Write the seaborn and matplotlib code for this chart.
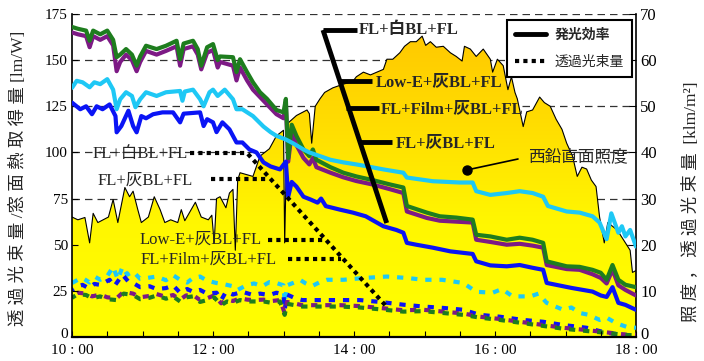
import seaborn as sns
import matplotlib.pyplot as plt
import matplotlib.colors as mcolors
import matplotlib.transforms as mtrans
from matplotlib.lines import Line2D
import numpy as np

sns.set_theme(style="ticks")
plt.rcParams['font.family'] = ['Liberation Serif', 'Noto Sans CJK JP']
plt.rcParams['axes.unicode_minus'] = False

# ---------------- data (time = minutes after 10:00) ----------------
# luminous efficacy [lm/W] (left axis)
t_gp = [0, 5, 12, 15, 18, 24, 30, 35, 38, 41, 46, 51, 55, 58, 63, 72, 80, 89, 92, 95,
        103, 107, 110, 115, 120, 124, 126, 137, 140, 143, 149, 154, 160, 166, 174, 180, 182, 184, 187, 191,
        197, 202, 205, 208, 220, 231, 242, 256, 271, 282, 285, 302, 313, 327, 341, 344, 356, 370, 381, 392,
        401, 404, 421, 432, 443, 450, 455, 460, 465, 471, 480]
eff_green = [168, 167, 166, 160.5, 166, 164, 166, 161, 151.6, 153, 156, 153, 147, 152, 157.8, 156, 157.8, 160.5, 150.5, 159,
             160.5, 156, 147, 157, 158.7, 150, 152, 151.6, 143.5, 150.5, 143.5, 138, 132.6, 129, 123, 121.7, 129, 97, 115, 109,
             101.6, 98, 101.6, 96, 92, 89, 87, 85, 82.6, 81, 71, 67.4, 65.4, 64.7, 63.6, 55.4, 54.5, 52.7, 53.8, 52.7,
             51, 41, 38.3, 38, 36.4, 34.8, 31, 39, 31, 28.3, 27]
eff_purple = [165, 164, 163, 157, 163, 161, 163, 158, 144, 149, 153, 150, 144, 149, 155, 153, 155, 157.5, 147, 156,
              157.5, 153, 145, 154, 155.5, 146, 149, 147, 139, 146, 139, 134, 130, 126, 120.7, 118.5, 126, 95, 111, 104,
              97, 93.5, 97, 92, 89, 86.5, 84.5, 82.6, 80, 78, 68, 64.5, 63, 62.5, 62, 52.7, 51.5, 50, 50.5, 49.5,
              48.4, 39, 36.8, 36.4, 34, 32, 29, 36.5, 28, 25.5, 22.5]

t_cyan = [0, 4, 9, 15, 19, 24, 30, 35, 38, 41, 46, 51, 54, 58, 63, 72, 80, 92, 94, 96,
          103, 109, 112, 117, 120, 124, 130, 137, 140, 145, 154, 163, 169, 174, 182, 188, 197, 202, 211, 220,
          231, 242, 250, 265, 282, 285, 307, 330, 341, 344, 356, 370, 381, 392, 401, 405, 421, 432, 443, 449,
          455, 459, 465, 468, 471, 475, 480]
eff_cyan = [135, 138.8, 138, 135.3, 138, 137, 139.7, 134, 123.4, 128.8, 132.6, 130.6, 124.5, 128.8, 132.6, 130.6, 132.6, 133.3, 128, 133,
            134, 128.8, 125, 132.6, 134, 130.6, 134, 128.8, 123.4, 123.4, 119.7, 114, 111, 109, 107, 105, 101.6, 100, 98, 96,
            94.6, 93.5, 92.6, 90.8, 89, 86.4, 84.4, 83.7, 83.7, 79, 77, 78, 79, 78, 76, 71, 68, 67.4, 65.4, 62,
            53, 67, 56.5, 60, 54.5, 58, 49]

t_blue = [0, 7, 12, 17, 21, 26, 32, 37, 38, 42, 48, 52, 55, 59, 63, 69, 77, 86, 92, 95,
          109, 112, 115, 120, 123, 128, 134, 140, 145, 151, 157, 163, 169, 177, 182, 184, 187, 191, 197, 203,
          209, 212, 216, 228, 239, 250, 265, 276, 282, 285, 293, 307, 322, 341, 344, 356, 370, 381, 392, 401,
          404, 425, 443, 450, 455, 460, 465, 471, 480]
eff_blue = [127, 123.4, 125, 120.7, 125, 123.4, 126, 119.7, 110.9, 114.3, 122.6, 114.3, 110.9, 119.7, 118.5, 120.7, 121.7, 121.7, 116.3, 121,
            121.7, 114.3, 118, 116.3, 111, 116.3, 112.5, 105.4, 105.4, 101.6, 100, 94.6, 92.4, 90.8, 95, 76, 84, 81.5, 76, 74.5,
            72.8, 75, 70.9, 69, 67.4, 65.4, 60, 58, 56.5, 51, 50, 48.4, 46.4, 45, 41, 38.8, 38.3, 39, 37.5, 36.4,
            29.3, 26.6, 24.6, 22.5, 21.7, 27, 18.5, 17.4, 14.7]

# west vertical illuminance [klm/m2] (right axis)
t_illum = [0, 5, 11, 15, 18, 22, 31, 35, 39, 45, 49, 52, 56, 59, 65, 70, 75, 79, 84, 90,
           93, 96, 105, 110, 116, 119, 121, 123, 126, 131, 134, 137, 139, 141, 143, 154, 160, 164, 168, 174,
           178, 180, 181, 183, 184, 191, 200, 202, 204, 207, 211, 215, 222, 231, 239, 242, 248, 254, 265, 268,
           273, 279, 283, 288, 293, 298, 301, 305, 310, 316, 322, 327, 332, 334, 339, 344, 350, 356, 358, 362,
           367, 371, 374, 377, 379, 384, 387, 392, 398, 402, 407, 412, 417, 421, 426, 430, 434, 438, 442, 446,
           449, 453, 456, 460, 464, 469, 475, 477, 480]
illum = [26, 25.4, 25.9, 20.4, 26.8, 24.8, 26, 29.8, 24.8, 32.4, 30.4, 31.6, 27.6, 24.8, 26, 30.4, 27.6, 24.8, 25.4, 24.8,
         27.6, 25.2, 29.2, 26, 25.4, 26.4, 20.4, 30, 30.4, 28, 31.2, 32, 18.8, 34, 35.6, 34.8, 39.2, 40, 40.8, 43.6,
         44.4, 44.8, 20.4, 44.8, 46.4, 48, 49.2, 48.4, 42, 50, 51.6, 53, 54, 54.8, 55.4, 56.4, 57.4, 56.8, 58, 60.2,
         60.2, 61.6, 63, 64, 64, 65.2, 63.2, 64, 62.8, 63, 61.6, 60.8, 59.8, 63, 62.4, 60.8, 62.4, 60.2, 57.4, 60.2,
         58.8, 53.6, 56.4, 53, 51.6, 45.6, 48.8, 49.2, 52, 50.8, 50, 47.2, 45, 42, 39.2, 34.8, 36.8, 36.4, 34, 32.6,
         26, 20.4, 24.8, 24, 23.2, 21.2, 18.8, 14, 14.4]

# transmitted luminous flux [klm/m2] (right axis)
t_fcyan = [0, 5, 9, 15, 20, 24, 30, 35, 39, 43, 47, 52, 58, 64, 72, 80, 86, 92, 98, 103,
           109, 115, 123, 130, 137, 141, 149, 155, 162, 168, 174, 180, 181, 183, 189, 194, 199, 204, 211, 217,
           231, 249, 268, 285, 299, 315, 333, 344, 358, 366, 375, 390, 397, 404, 418, 425, 432, 440, 449, 455,
           463, 472, 480]
flux_cyan = [11.7, 12.4, 12.8, 11.8, 13.0, 12.4, 13.2, 15.2, 12.5, 15.2, 13.5, 14.2, 12.6, 12.8, 13.1, 12.3, 13.4, 12.4, 11.8, 12.8,
             13.1, 12.2, 11.7, 11.4, 11.0, 10.2, 11.3, 11.6, 11.0, 11.9, 11.7, 11.2, 7.4, 11.2, 11.8, 12.4, 11.6, 11.0, 11.9, 12.4,
             12.4, 12.8, 13.1, 12.8, 12.4, 12.4, 11.7, 9.8, 9.6, 10.4, 8.8, 8.8, 9.4, 7.4, 5.9, 6.4, 5.2, 4.8, 3.7, 4.2,
             3.0, 2.2, 2.0]

t_fblue = [0, 5, 9, 14, 19, 24, 29, 32, 36, 43, 48, 52, 58, 66, 72, 80, 86, 92, 98, 103,
           109, 115, 123, 127, 131, 137, 145, 154, 160, 168, 174, 180, 181, 183, 190, 196, 204, 211, 228, 245,
           262, 282, 299, 316, 333, 347, 364, 384, 401, 418, 438, 455, 472, 480]
flux_blue = [10.2, 11.0, 11.3, 10.6, 11.5, 11.3, 12.0, 12.4, 11.0, 13.5, 12.0, 11.7, 10.8, 11.0, 10.4, 10.6, 11.2, 9.6, 10.4, 9.8,
             10.2, 9.4, 9.6, 8.0, 9.8, 9.2, 9.8, 9.1, 9.4, 9.1, 9.6, 9.2, 5.9, 9.2, 8.4, 8.0, 8.0, 8.0, 8.0, 8.0,
             7.6, 7.0, 6.6, 6.3, 5.9, 4.8, 4.4, 3.7, 3.3, 2.6, 2.0, 0.9, 0.4, 0.4]

t_fgp = [0, 5, 12, 17, 24, 30, 38, 44, 52, 58, 66, 72, 80, 86, 92, 97, 103, 109, 115, 121,
         127, 132, 137, 143, 149, 154, 163, 170, 177, 181, 183, 196, 211, 228, 245, 262, 282, 299, 316, 333,
         347, 364, 384, 401, 418, 438, 455, 472, 480]
flux_green = [8.5, 9.3, 9.1, 8.4, 8.8, 8.2, 8.0, 9.4, 9.1, 8.2, 8.5, 9.0, 8.3, 8.8, 7.7, 8.6, 8.8, 7.6, 8.0, 8.6,
              6.9, 7.7, 7.4, 8.0, 7.7, 7.7, 7.7, 7.4, 7.7, 4.8, 7.2, 6.6, 6.6, 6.6, 6.4, 6.0, 5.5, 5.6, 5.2, 4.8,
              4.2, 3.7, 3.0, 2.4, 1.8, 1.3, 0.9, 0.4, 0.4]
flux_purple = [8.9, 9.6, 9.4, 8.8, 9.2, 8.6, 8.4, 9.8, 9.4, 8.6, 8.9, 9.3, 8.7, 9.1, 8.1, 9.0, 9.1, 8.0, 8.4, 9.0,
               7.3, 8.1, 7.8, 8.4, 8.1, 8.0, 8.1, 7.8, 8.0, 5.2, 7.6, 6.9, 6.9, 6.9, 6.7, 6.3, 5.8, 5.9, 5.5, 5.1,
               4.4, 3.9, 3.2, 2.6, 2.0, 1.5, 1.0, 0.5, 0.5]

hour_ticks = [10, 12, 14, 16, 18]
hour_labels = ["10 : 00", "12 : 00", "14 : 00", "16 : 00", "18 : 00"]

C_GREEN, C_PURPLE, C_CYAN, C_BLUE = '#1E7D1E', '#7D1A85', '#1EC8F5', '#0A14F5'


def hrs(mins):
    return 10 + np.asarray(mins, dtype=float) / 60.0


# ---------------- figure ----------------
fig = plt.figure(figsize=(7.04, 3.61), dpi=100)
ax1 = fig.add_axes([72 / 704, 1 - 337 / 361, 564 / 704, 323 / 361])
ax2 = ax1.twinx()
ax1.set_zorder(2)
ax2.set_zorder(1)
ax1.patch.set_visible(False)
ax2.patch.set_facecolor('white')

# --- right axis: illuminance area with vertical gradient ---
sun = mcolors.LinearSegmentedColormap.from_list(
    'sun', [(0, '#FFFF00'), (0.35, '#FFF700'), (0.65, '#FFDE00'), (1, '#FFC400')])
area = ax2.fill_between(hrs(t_illum), illum, 0, facecolor='none', edgecolor='none')
grad = np.linspace(0, 1, 256).reshape(-1, 1)
im = ax2.imshow(grad, extent=[10, 18, 0, 70], origin='lower', aspect='auto', cmap=sun, zorder=1)
im.set_clip_path(area.get_paths()[0], transform=ax2.transData)
sns.lineplot(x=hrs(t_illum), y=illum, ax=ax2, color='black', linewidth=0.8,
             estimator=None, sort=False, zorder=2)

# transmitted flux (dashed)
for tt, vv, col, off in [(t_fcyan, flux_cyan, C_CYAN, 0), (t_fblue, flux_blue, C_BLUE, 1.0),
                         (t_fgp, flux_purple, C_PURPLE, 2.0), (t_fgp, flux_green, C_GREEN, 0.5)]:
    sns.lineplot(x=hrs(tt), y=vv, ax=ax2, color=col, linewidth=3,
                 linestyle=(off, (1.5, 1.9)), estimator=None, sort=False, zorder=3)

ax2.set_ylim(0, 70)
ax2.set_yticks(range(0, 71, 10))
ax2.grid(axis='y', color='#333333', linestyle=(0, (6, 4)), linewidth=0.9)
ax2.grid(axis='x', visible=False)
ax2.set_axisbelow(True)

# --- left axis: luminous efficacy (solid) ---
for tt, vv, col in [(t_gp, eff_purple, C_PURPLE), (t_gp, eff_green, C_GREEN),
                    (t_cyan, eff_cyan, C_CYAN), (t_blue, eff_blue, C_BLUE)]:
    sns.lineplot(x=hrs(tt), y=vv, ax=ax1, color=col, linewidth=3,
                 estimator=None, sort=False, zorder=3)

ax1.set_xlim(10, 18)
ax1.set_ylim(0, 175)
ax1.set_yticks(range(0, 176, 25))
ax1.set_xticks(hour_ticks)
ax1.set_xticklabels(hour_labels)
ax1.set_xticks(np.arange(10, 18.01, 0.5), minor=True)

for ax in (ax1, ax2):
    for s in ax.spines.values():
        s.set_color('black')
    ax.spines['top'].set_visible(False)
ax1.spines['right'].set_visible(False)
ax2.spines['left'].set_visible(False)
ax2.spines['bottom'].set_visible(False)
ax1.spines['left'].set_linewidth(1.2)
ax1.spines['bottom'].set_linewidth(1.6)
ax2.spines['right'].set_linewidth(1.2)

ax1.tick_params(axis='y', direction='in', length=4, width=0.8, labelsize=11, pad=3, colors='black')
ax1.tick_params(axis='x', which='both', direction='in', length=4, width=0.8, labelsize=11, pad=5,
                colors='black')
ax2.tick_params(axis='y', direction='in', length=5, width=0.8, labelsize=12, pad=3, colors='black')

# lift the two "0" labels a little so they clear the time labels
fig.canvas.draw()
lift = mtrans.ScaledTranslation(0, 3 / 72, fig.dpi_scale_trans)
for ax in (ax1, ax2):
    lab = ax.get_yticklabels()[0]
    lab.set_transform(lab.get_transform() + lift)

ax1.set_xlabel('')
ax1.set_ylabel('透 過 光 束 量 /窓 面 熱 取 得 量 [lm/W]', fontsize=12.5)
ax1.yaxis.set_label_coords(-0.08, 0.49)
ax2.set_ylabel('照 度 ， 透 過 光 束 量  [klm/m²]', fontsize=12.5, rotation=90)
ax2.yaxis.set_label_coords(1.083, 0.42)


# --- annotations (pixel positions converted to data units) ---
def px(x, y):
    return 10 + (x - 72) / 70.5, (337 - y) * 175 / 323


def leader(pts, **kw):
    xs, ys = zip(*[px(*p) for p in pts])
    ax1.plot(xs, ys, color='black', clip_on=False, zorder=6, **kw)


solid = dict(linewidth=3.5, solid_capstyle='butt')
leader([(323, 30), (386.7, 223)], **solid)
leader([(323, 30), (357, 30)], **solid)
leader([(340, 81), (372, 81)], **solid)
leader([(346, 108), (379, 108)], **solid)
leader([(359, 142), (392, 142)], **solid)

bold = dict(fontsize=12, fontweight='bold', va='center', ha='left', zorder=7)
ax1.text(*px(359, 30), 'FL+白BL+FL', **bold)
ax1.text(*px(376, 82), 'Low-E+灰BL+FL', **bold)
ax1.text(*px(381, 109), 'FL+Film+灰BL+FL', **bold)
ax1.text(*px(396, 143), 'FL+灰BL+FL', **bold)

dots = dict(linewidth=3, linestyle=(0, (1, 1)), dash_capstyle='butt')
leader([(190, 153), (247, 153), (386, 306)], **dots)
leader([(211, 179), (267, 179)], **dots)
leader([(268, 240), (324, 240)], **dots)
leader([(288, 259), (341, 259)], **dots)

norm = dict(fontsize=12, va='center', ha='right', zorder=7)
ax1.text(*px(188, 154), 'FL+白BL+FL', **norm)
ax1.text(*px(193, 181), 'FL+灰BL+FL', **norm)
ax1.text(*px(262, 240), 'Low-E+灰BL+FL', **norm)
ax1.text(*px(277, 260), 'FL+Film+灰BL+FL', **norm)

leader([(466.7, 170), (518, 159)], linewidth=1.2)
ax1.plot(*px(466.7, 170), 'o', color='black', markersize=6.5, zorder=7, clip_on=False)
ax1.text(*px(528, 157), '西鉛直面照度', fontsize=12, va='center', ha='left', zorder=7)

# --- legend ---
handles = [Line2D([], [], color='black', linewidth=3.5),
           Line2D([], [], color='black', linewidth=3, linestyle=(0, (1, 1)))]
leg = ax1.legend(handles, ['発光効率', '透過光束量'], loc='upper right',
                 bbox_to_anchor=((632 - 72) / 564, (337 - 20) / 323),
                 fontsize=10, frameon=True, fancybox=False, framealpha=1,
                 edgecolor='black', handlelength=2.2, handletextpad=0.6,
                 borderpad=0.6, labelspacing=1.0, borderaxespad=0)
leg.get_frame().set_linewidth(1.5)
leg.get_texts()[0].set_fontweight('bold')
leg.set_zorder(10)

fig.savefig('out.png', dpi=100)
